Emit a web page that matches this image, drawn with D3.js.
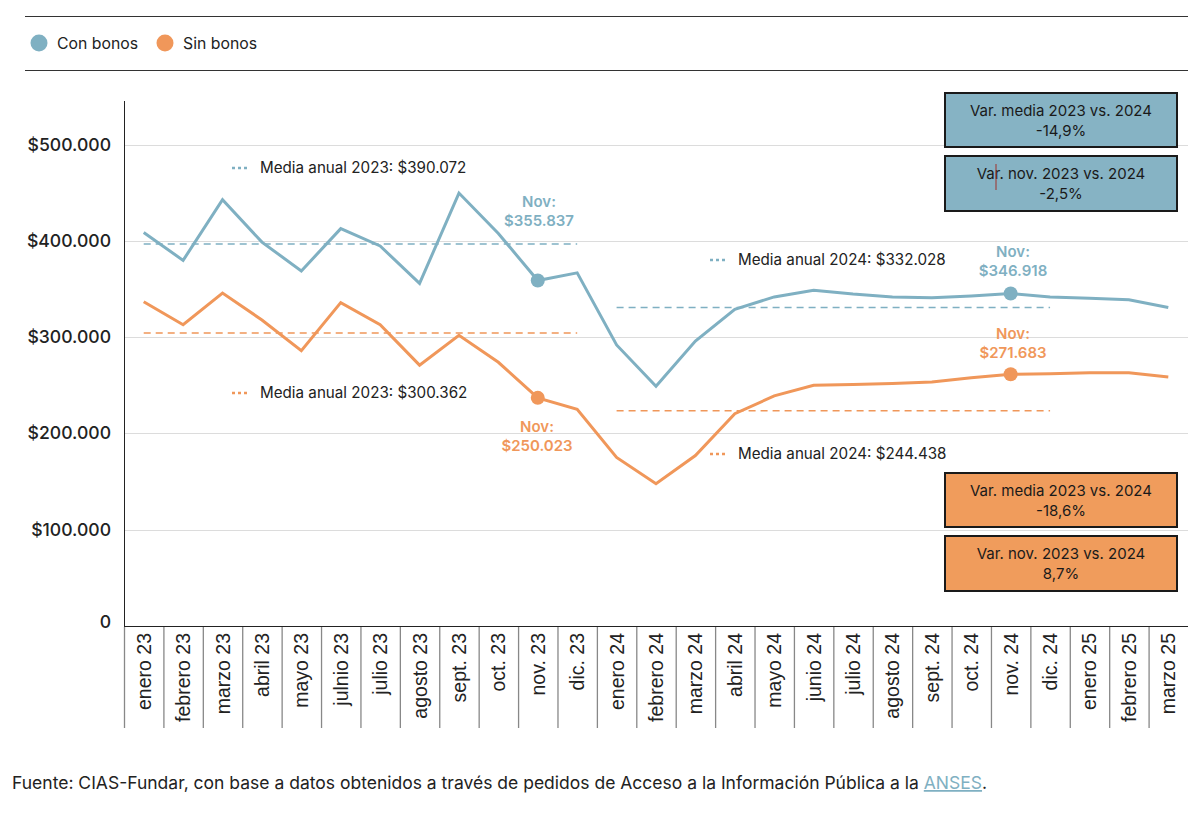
<!DOCTYPE html>
<html>
<head>
<meta charset="utf-8">
<script src="https://cdn.jsdelivr.net/npm/d3@7"></script>
<style>
  body { margin: 0; background: #fff; }
  svg { display: block; }
</style>
</head>
<body>
<div id="chart"></div>
<script>
const width = 1200, height = 818;

// data
const meses = ["enero 23","febrero 23","marzo 23","abril 23","mayo 23","julnio 23","julio 23","agosto 23","sept. 23","oct. 23","nov. 23","dic. 23",
  "enero 24","febrero 24","marzo 24","abril 24","mayo 24","junio 24","julio 24","agosto 24","sept. 24","oct. 24","nov. 24","dic. 24",
  "enero 25","febrero 25","marzo 25"];
const conBonos = [409000,380000,443000,399000,369000,413000,395000,356000,450000,408000,359000,367000,
  292000,249000,296000,329000,342000,349000,345000,342000,341000,343000,345500,342000,340600,339000,331000];
const sinBonos = [337000,313000,346000,318000,286000,336000,313000,271000,302000,274000,237000,225000,
  175000,147600,177000,220500,239000,250000,251000,252000,253500,258000,261500,262000,263000,263000,258600];
const yTicks = [0,100000,200000,300000,400000,500000];
const yTickLabels = ["0","$100.000","$200.000","$300.000","$400.000","$500.000"];
// medias anuales (posición del trazo) y textos
const mediaCon = [397000, 331000];
const mediaSin = [304500, 223600];
const mediaConLabels = ["Media anual 2023: $390.072","Media anual 2024: $332.028"];
const mediaSinLabels = ["Media anual 2023: $300.362","Media anual 2024: $244.438"];
const novIdx = [10, 22];
const novConLabels = ["$355.837","$346.918"];
const novSinLabels = ["$250.023","$271.683"];
const cajasCon = [["Var. media 2023 vs. 2024","-14,9%"],["Var. nov. 2023 vs. 2024","-2,5%"]];
const cajasSin = [["Var. media 2023 vs. 2024","-18,6%"],["Var. nov. 2023 vs. 2024","8,7%"]];

const azul = "#7fb0c2", naranja = "#f0975a";
const fontMain = "Inter, 'Noto Sans', sans-serif";

const svg = d3.select("#chart").append("svg")
  .attr("width", width).attr("height", height);

// leyenda + reglas
svg.append("line").attr("x1",25).attr("x2",1188).attr("y1",16.5).attr("y2",16.5).attr("stroke","#333").attr("stroke-width",1);
svg.append("line").attr("x1",25).attr("x2",1188).attr("y1",70.5).attr("y2",70.5).attr("stroke","#333").attr("stroke-width",1);
const leg = [{t:"Con bonos",c:azul,x:39},{t:"Sin bonos",c:naranja,x:165}];
leg.forEach(function(d){
  svg.append("circle").attr("cx",d.x).attr("cy",43).attr("r",8.5).attr("fill",d.c);
  svg.append("text").attr("x",d.x+18).attr("y",48.5).text(d.t)
    .attr("font-family",fontMain).attr("font-size",15.8).attr("fill","#222");
});

const x0 = 124, x1 = 1188;
const x = d3.scaleBand().domain(meses).range([x0, x1]).padding(0);
const y = d3.scaleLinear().domain([0, 500000]).range([625.7, 145]);
const cx = function(i){ return x(meses[i]) + x.bandwidth()/2; };

// grilla
svg.append("g").selectAll("line").data(yTicks.slice(1)).enter().append("line")
  .attr("x1", x0).attr("x2", x1)
  .attr("y1", function(d){ return Math.round(y(d))+0.5; })
  .attr("y2", function(d){ return Math.round(y(d))+0.5; })
  .attr("stroke","#dcdcdc").attr("stroke-width",1);

// etiquetas eje y
svg.append("g").selectAll("text").data(yTicks).enter().append("text")
  .attr("x", 111).attr("y", function(d){ return y(d) + 6 - (d===0 ? 4 : 0); })
  .attr("text-anchor","end")
  .attr("font-family",fontMain).attr("font-size",17.6).attr("font-weight",500).attr("fill","#222")
  .text(function(d,i){ return yTickLabels[i]; });

// ejes
svg.append("line").attr("x1",x0+0.5).attr("x2",x0+0.5).attr("y1",101).attr("y2",626).attr("stroke","#222");
svg.append("line").attr("x1",x0).attr("x2",x1).attr("y1",626.5).attr("y2",626.5).attr("stroke","#222");

// separadores + etiquetas eje x
const sep = svg.append("g");
meses.forEach(function(m,i){
  const xs = x(m);
  sep.append("line").attr("x1",xs+0.5).attr("x2",xs+0.5).attr("y1",627).attr("y2",728)
    .attr("stroke","#888").attr("stroke-width",1.3);
  sep.append("text")
    .attr("transform","translate(" + (cx(i)+7) + ",633) rotate(-90)")
    .attr("text-anchor","end")
    .attr("font-family","'Liberation Sans', Arial, sans-serif").attr("font-size",19.5).attr("fill","#222")
    .text(m);
});

// medias (líneas punteadas)
function media(val, a, b, color){
  svg.append("line").attr("x1",cx(a)).attr("x2",cx(b)).attr("y1",y(val)).attr("y2",y(val))
    .attr("stroke",color).attr("stroke-width",1.6).attr("stroke-dasharray","7,5");
}
media(mediaCon[0],0,11,azul);
media(mediaSin[0],0,11,naranja);
media(mediaCon[1],12,23,azul);
media(mediaSin[1],12,23,naranja);

// series
const line = d3.line().x(function(d,i){ return cx(i); }).y(function(d){ return y(d); });
svg.append("path").datum(conBonos).attr("d",line).attr("fill","none").attr("stroke",azul).attr("stroke-width",3).attr("stroke-linejoin","miter");
svg.append("path").datum(sinBonos).attr("d",line).attr("fill","none").attr("stroke",naranja).attr("stroke-width",3).attr("stroke-linejoin","miter");

// puntos noviembre
novIdx.forEach(function(i){
  svg.append("circle").attr("cx",cx(i)).attr("cy",y(conBonos[i])).attr("r",7).attr("fill",azul);
  svg.append("circle").attr("cx",cx(i)).attr("cy",y(sinBonos[i])).attr("r",7).attr("fill",naranja);
});

// textos de medias
function mediaLabel(xx, yy, color, txt){
  svg.append("line").attr("x1",xx).attr("x2",xx+15).attr("y1",yy-5).attr("y2",yy-5)
    .attr("stroke",color).attr("stroke-width",2.5).attr("stroke-dasharray","3,3");
  svg.append("text").attr("x",xx+28).attr("y",yy).text(txt)
    .attr("font-family",fontMain).attr("font-size",15.2).attr("fill","#222");
}
mediaLabel(232,173,azul,mediaConLabels[0]);
mediaLabel(232,398,naranja,mediaSinLabels[0]);
mediaLabel(710,265,azul,mediaConLabels[1]);
mediaLabel(710,459,naranja,mediaSinLabels[1]);

// textos noviembre
function novLabel(xx, yy, color, txt){
  const t = svg.append("text").attr("x",xx).attr("y",yy).attr("text-anchor","middle")
    .attr("font-family",fontMain).attr("font-size",15).attr("font-weight",600).attr("fill",color);
  t.append("tspan").attr("x",xx).attr("dy",0).text("Nov:");
  t.append("tspan").attr("x",xx).attr("dy",19).text(txt);
}
novLabel(539,207,azul,novConLabels[0]);
novLabel(537,432,naranja,novSinLabels[0]);
novLabel(1013,257,azul,novConLabels[1]);
novLabel(1013,339,naranja,novSinLabels[1]);

// cajas
function caja(yy, h, color, lines){
  svg.append("rect").attr("x",945).attr("y",yy).attr("width",232).attr("height",h)
    .attr("fill",color).attr("stroke","#1a1a1a").attr("stroke-width",2);
  const t = svg.append("text").attr("text-anchor","middle")
    .attr("font-family",fontMain).attr("font-size",15).attr("fill","#1a1a1a");
  t.append("tspan").attr("x",1061).attr("y",yy+23).text(lines[0]);
  t.append("tspan").attr("x",1061).attr("y",yy+43).text(lines[1]);
}
caja(93,54,"#86b3c4",cajasCon[0]);
caja(156,55,"#86b3c4",cajasCon[1]);
caja(473,54,"#f09c5c",cajasSin[0]);
caja(536,55,"#f09c5c",cajasSin[1]);
svg.append("line").attr("x1",996).attr("x2",996).attr("y1",164).attr("y2",190).attr("stroke","#a0302a").attr("stroke-width",1);

// fuente
const f = svg.append("text").attr("x",12).attr("y",789)
  .attr("font-family",fontMain).attr("font-size",17.5).attr("fill","#222");
f.append("tspan").text("Fuente: CIAS-Fundar, con base a datos obtenidos a través de pedidos de Acceso a la Información Pública a la ");
f.append("tspan").attr("fill","#7fb0c2").attr("text-decoration","underline").text("ANSES");
f.append("tspan").text(".");
</script>
</body>
</html>
